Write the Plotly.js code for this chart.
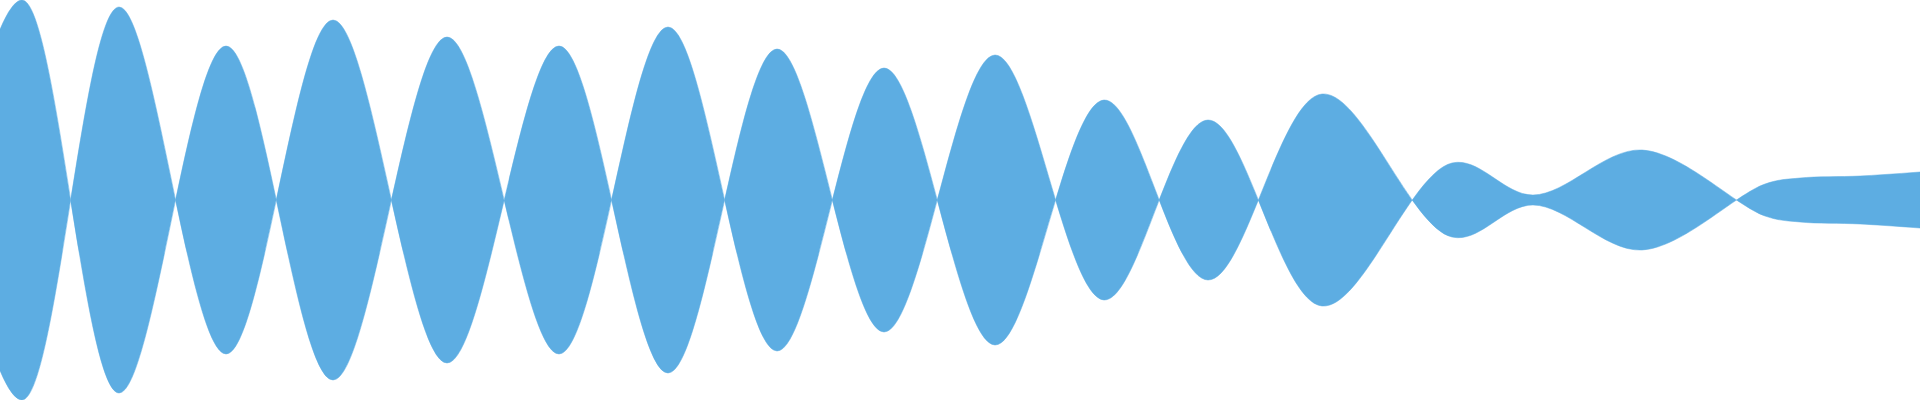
<!DOCTYPE html>
<html>
<head>
<meta charset="utf-8">
<script src="https://cdn.plot.ly/plotly-3.0.1.min.js"></script>
<style>
  html, body { margin: 0; padding: 0; background: #ffffff; }
  #chart { width: 1920px; height: 400px; }
</style>
</head>
<body>
<div id="chart"></div>
<script>
// signed peaks of the wave
var peakX = [-80, 22, 119, 226, 333, 447, 559, 668, 777, 884, 995, 1104, 1208, 1322, 1452, 1533, 1642, 1765, 1800, 1860, 1920];
var peakY = [-150, 200, -193, 154, -180, 163, -154, 173, -151, 132, -145, 100, -80, 106, -37, -5, -50, 16, 22, 24, 28];

var fillCol = '#5DADE2';
var mirror = peakY.map(function (v) { return -v; });

function half(y) {
    return {
        x: peakX, y: y,
        type: 'scatter',
        mode: 'lines',
        line: {shape: 'spline', smoothing: 1, width: 0.5, color: fillCol},
        fill: 'tozeroy',
        fillcolor: fillCol,
        hoverinfo: 'skip'
    };
}

var data = [half(peakY), half(mirror)];

var layout = {
    width: 1920,
    height: 400,
    showlegend: false,
    paper_bgcolor: '#ffffff',
    plot_bgcolor: '#ffffff',
    margin: {l: 0, r: 0, t: 0, b: 0, pad: 0},
    xaxis: {range: [0, 1920], visible: false, fixedrange: true},
    yaxis: {range: [-200, 200], visible: false, fixedrange: true}
};

Plotly.newPlot('chart', data, layout, {displayModeBar: false, staticPlot: true});
</script>
</body>
</html>
